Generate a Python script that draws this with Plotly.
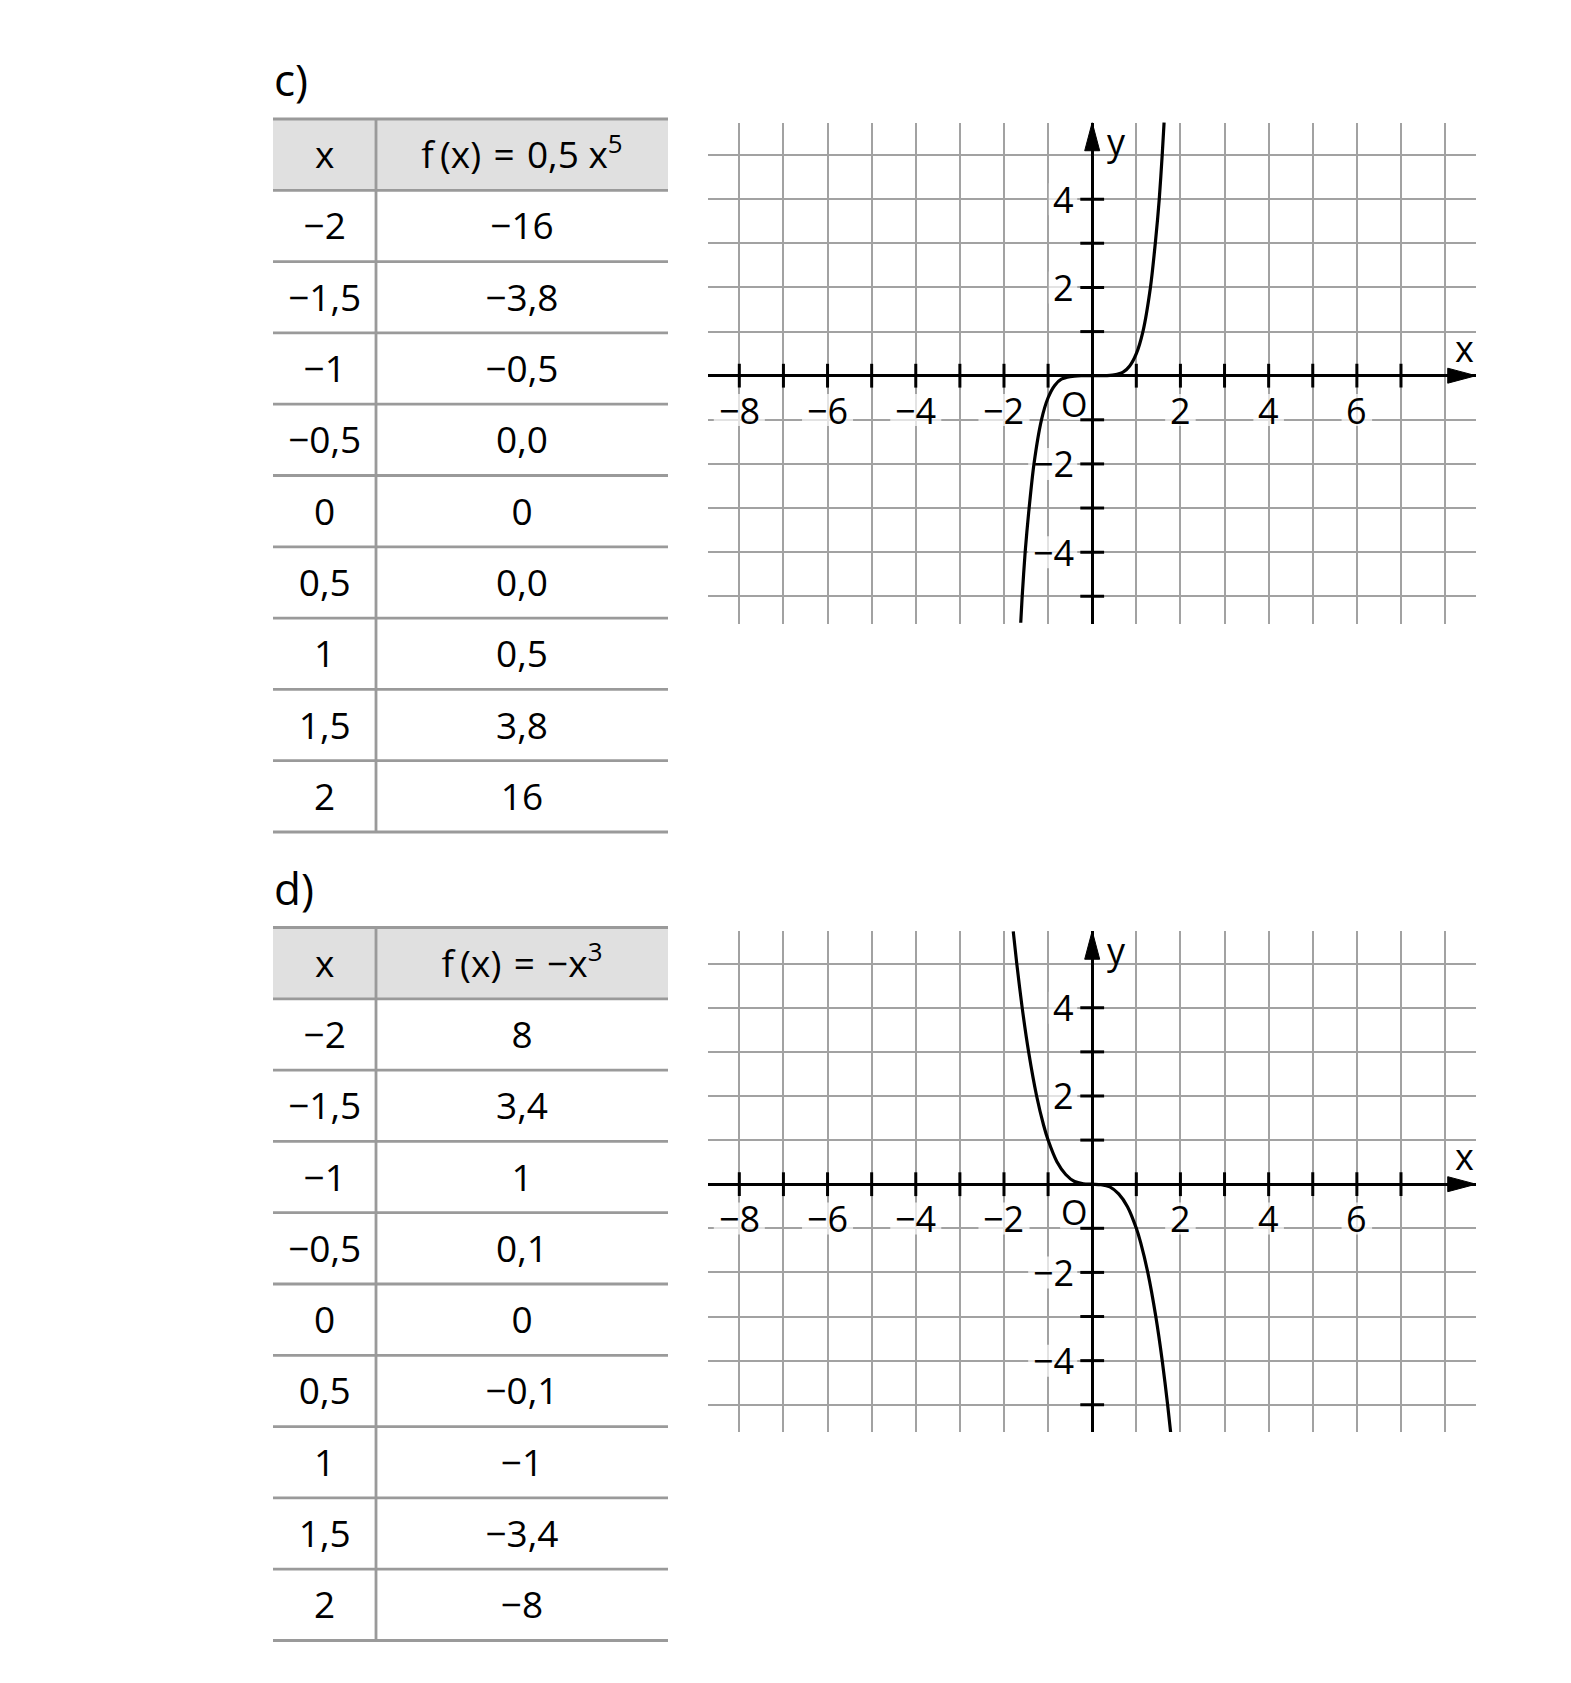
import plotly.graph_objects as go

W, H = 1571, 1683
OFF = 8  # default page body margin

# ---------------- data ----------------
table_x_labels = ["x", "−2", "−1,5", "−1", "−0,5", "0", "0,5", "1", "1,5", "2"]
table_c_values = ["f\u2009(x)\u2004=\u20040,5 x<sup>5</sup>", "−16", "−3,8", "−0,5", "0,0", "0",
                  "0,0", "0,5", "3,8", "16"]
table_d_values = ["f\u2009(x)\u2004=\u2004−x<sup>3</sup>", "8", "3,4", "1", "0,1", "0",
                  "−0,1", "−1", "−3,4", "−8"]

# curve points
curve_c_x = [-1.62, -1.59, -1.52, -1.44, -1.32, -1.15, -1.0, -0.85, -0.7, -0.5, -0.25, 0.0,
             0.25, 0.5, 0.7, 0.85, 1.0, 1.15, 1.32, 1.44, 1.52, 1.59, 1.63]
curve_c_y = [-5.6, -5.05, -4.0, -3.1, -2.0, -1.0, -0.5, -0.22, -0.08, -0.02, 0.0, 0.0,
             0.0, 0.02, 0.08, 0.22, 0.5, 1.0, 2.0, 3.1, 4.0, 5.05, 5.75]
curve_d_x = [-1.79, -1.71, -1.59, -1.44, -1.26, -1.1, -1.0, -0.8, -0.6, -0.4, -0.2, 0.0,
             0.2, 0.4, 0.6, 0.8, 1.0, 1.1, 1.26, 1.44, 1.59, 1.71, 1.78]
curve_d_y = [5.73, 5.0, 4.02, 2.99, 2.0, 1.33, 1.0, 0.51, 0.22, 0.06, 0.01, 0.0,
             -0.01, -0.06, -0.22, -0.51, -1.0, -1.33, -2.0, -2.99, -4.02, -5.0, -5.64]

x_tick_vals = [-8, -6, -4, -2, 2, 4, 6]
x_tick_text = ["−8", "−6", "−4", "−2", "2", "4", "6"]
y_tick_vals = [-4, -2, 2, 4]
y_tick_text = ["−4", "−2", "2", "4"]
x_marks = [-8, -7, -6, -5, -4, -3, -2, -1, 1, 2, 3, 4, 5, 6, 7]
y_marks = [-5, -4, -3, -2, -1, 1, 2, 3, 4]

part_labels = ["c)", "d)"]

# ---------------- layout geometry (page pixels) ----------------
FONT = "Open Sans"
WEIGHT = 500
UNIT = 44.11
X0PX = 1092.2
XR = [-8.7, 8.7]
YR = [-5.62, 5.74]
ZERO_PY = [375.7, 1184.2]       # pixel row of y=0 in chart c / chart d
TABLE_TOP = [119.0, 927.5]
ROW_H = 71.3
TABLE_LEFT, TABLE_RIGHT = 273.0, 668.0
COL_SPLIT = (376.0 - TABLE_LEFT) / (TABLE_RIGHT - TABLE_LEFT)
COL0_C = (324.7 - TABLE_LEFT) / (TABLE_RIGHT - TABLE_LEFT)
COL1_C = (522.0 - TABLE_LEFT) / (TABLE_RIGHT - TABLE_LEFT)

LABEL_SIZE = 36
CHAR_W = 0.57 * LABEL_SIZE        # approx. digit / minus advance width
XLAB_Y = -0.78                    # x tick labels: centre row (data units)
YLAB_RIGHT = -0.43                # y tick labels: right edge (data units)
KO_H = 32                         # knock-out box height (px)

GRID = "#a2a2a2"
TLINE = "#9a9a9a"
HEAD = "#e0e0e0"

FW, FH = W - 2 * OFF, H - 2 * OFF


def dom_x(a, b):
    return [(a - OFF) / FW, (b - OFF) / FW]


def dom_y(top, bottom):
    return [1 - (bottom - OFF) / FH, 1 - (top - OFF) / FH]


def fnt(size):
    return dict(size=size, family=FONT, color="black", weight=WEIGHT)


fig = go.Figure()
layout = dict(
    width=FW, height=FH, margin=dict(l=0, r=0, t=0, b=0),
    paper_bgcolor="white", plot_bgcolor="rgba(0,0,0,0)",
    showlegend=False, font=dict(family=FONT, color="black"),
)
shapes = []
annotations = []

curves = [(curve_c_x, curve_c_y, table_c_values), (curve_d_x, curve_d_y, table_d_values)]

for k, (cx, cy, tvals) in enumerate(curves):
    # ---- chart axes ----
    xa = "xaxis" if k == 0 else "xaxis2"
    ya = "yaxis" if k == 0 else "yaxis2"
    xr = "x" if k == 0 else "x2"
    yr = "y" if k == 0 else "y2"
    zp = ZERO_PY[k]
    layout[xa] = dict(
        domain=dom_x(X0PX + UNIT * XR[0], X0PX + UNIT * XR[1]), anchor=yr,
        range=XR, dtick=1, tick0=0, showgrid=True, gridcolor=GRID, gridwidth=2,
        zeroline=True, zerolinecolor="black", zerolinewidth=3,
        showticklabels=False, ticks="", showline=False, fixedrange=True,
    )
    layout[ya] = dict(
        domain=dom_y(zp - UNIT * YR[1], zp - UNIT * YR[0]), anchor=xr,
        range=YR, dtick=1, tick0=0, showgrid=True, gridcolor=GRID, gridwidth=2,
        zeroline=True, zerolinecolor="black", zerolinewidth=3,
        showticklabels=False, ticks="", showline=False, fixedrange=True,
    )

    # white knock-out boxes behind the tick labels (grid is interrupted there)
    ko_x, ko_y, ko_w = [], [], []
    for v, t in zip(x_tick_vals, x_tick_text):
        ko_x.append(v)
        ko_y.append(XLAB_Y)
        ko_w.append(CHAR_W * len(t) + 10)
    for v, t in zip(y_tick_vals, y_tick_text):
        w = CHAR_W * len(t)
        ko_x.append(YLAB_RIGHT - (w / 2) / UNIT)
        ko_y.append(v)
        ko_w.append(w + 8)
    ko_x.append(-0.41)
    ko_y.append(-0.64)
    ko_w.append(28)
    fig.add_trace(go.Scatter(x=ko_x, y=ko_y, mode="markers", xaxis=xr, yaxis=yr,
                             marker=dict(symbol="line-ew", size=[w / 1.4 for w in ko_w],
                                         color="white", line=dict(color="white", width=KO_H)),
                             hoverinfo="skip"))

    # curve
    fig.add_trace(go.Scatter(x=cx, y=cy, mode="lines", xaxis=xr, yaxis=yr,
                             line=dict(color="black", width=3.2, shape="spline", smoothing=0.8),
                             hoverinfo="skip"))
    # tick marks crossing the axes
    fig.add_trace(go.Scatter(x=x_marks, y=[0] * len(x_marks), mode="markers", xaxis=xr, yaxis=yr,
                             marker=dict(symbol="line-ns", size=17, color="black",
                                         line=dict(color="black", width=3)),
                             hoverinfo="skip"))
    fig.add_trace(go.Scatter(x=[0] * len(y_marks), y=y_marks, mode="markers", xaxis=xr, yaxis=yr,
                             marker=dict(symbol="line-ew", size=17, color="black",
                                         line=dict(color="black", width=3)),
                             hoverinfo="skip"))

    # arrow heads
    al, ah = 0.64, 0.17
    shapes.append(dict(type="path", xref=xr, yref=yr, layer="above",
                       path=f"M {XR[1]-al},{ah} L {XR[1]},0 L {XR[1]-al},{-ah} Z",
                       fillcolor="black", line=dict(color="black", width=1)))
    shapes.append(dict(type="path", xref=xr, yref=yr, layer="above",
                       path=f"M {-ah},{YR[1]-al} L 0,{YR[1]} L {ah},{YR[1]-al} Z",
                       fillcolor="black", line=dict(color="black", width=1)))

    # tick labels
    for v, t in zip(x_tick_vals, x_tick_text):
        annotations.append(dict(x=v, y=XLAB_Y, xref=xr, yref=yr, text=t, showarrow=False,
                                xanchor="center", yanchor="middle", borderpad=0,
                                font=fnt(LABEL_SIZE)))
    for v, t in zip(y_tick_vals, y_tick_text):
        annotations.append(dict(x=YLAB_RIGHT + 1.5 / UNIT, y=v, xref=xr, yref=yr, text=t,
                                showarrow=False, xanchor="right", yanchor="middle", borderpad=0,
                                font=fnt(LABEL_SIZE)))
    annotations.append(dict(x=-0.41, y=-0.64, xref=xr, yref=yr, text="O", showarrow=False,
                            xanchor="center", yanchor="middle", borderpad=0, font=fnt(34)))
    annotations.append(dict(x=0.54, y=5.3, xref=xr, yref=yr, text="y", showarrow=False,
                            xanchor="center", yanchor="middle", font=fnt(LABEL_SIZE)))
    annotations.append(dict(x=8.45, y=0.62, xref=xr, yref=yr, text="x", showarrow=False,
                            xanchor="center", yanchor="middle", font=fnt(LABEL_SIZE)))

    # ---- table axes ----
    txa = "xaxis3" if k == 0 else "xaxis4"
    tya = "yaxis3" if k == 0 else "yaxis4"
    txr = "x3" if k == 0 else "x4"
    tyr = "y3" if k == 0 else "y4"
    nrows = len(table_x_labels)
    top = TABLE_TOP[k]
    layout[txa] = dict(domain=dom_x(TABLE_LEFT, TABLE_RIGHT), anchor=tyr, range=[0, 1],
                       visible=False, fixedrange=True)
    layout[tya] = dict(domain=dom_y(top - 0.1 * ROW_H, top + (nrows + 0.1) * ROW_H), anchor=txr,
                       range=[nrows - 0.4, -0.6], visible=False, fixedrange=True)

    shapes.append(dict(type="rect", xref=txr, yref=tyr, x0=0, x1=1, y0=-0.5, y1=0.5,
                       fillcolor=HEAD, line=dict(width=0), layer="below"))
    for r in range(nrows + 1):
        shapes.append(dict(type="line", xref=txr, yref=tyr, x0=0, x1=1, y0=r - 0.5, y1=r - 0.5,
                           line=dict(color=TLINE, width=2.8), layer="above"))
    shapes.append(dict(type="line", xref=txr, yref=tyr, x0=COL_SPLIT, x1=COL_SPLIT,
                       y0=-0.5, y1=nrows - 0.5, line=dict(color=TLINE, width=2.8), layer="above"))

    rows = list(range(nrows))
    fig.add_trace(go.Scatter(x=[COL0_C] * nrows, y=[r + 0.06 for r in rows], mode="text",
                             text=table_x_labels, xaxis=txr, yaxis=tyr, cliponaxis=False,
                             textfont=fnt(37), textposition="middle center", hoverinfo="skip"))
    fig.add_trace(go.Scatter(x=[COL1_C] * nrows, y=[r + 0.06 for r in rows], mode="text",
                             text=tvals, xaxis=txr, yaxis=tyr, cliponaxis=False,
                             textfont=fnt(37), textposition="middle center", hoverinfo="skip"))

    # part label
    annotations.append(dict(x=(TABLE_LEFT - 1 - OFF) / FW, y=1 - (top - 40 - OFF) / FH,
                            xref="paper", yref="paper",
                            text=part_labels[k], showarrow=False, xanchor="left", yanchor="middle",
                            font=fnt(44)))

layout["shapes"] = shapes
layout["annotations"] = annotations
fig.update_layout(**layout)
fig.write_html("out.html")
